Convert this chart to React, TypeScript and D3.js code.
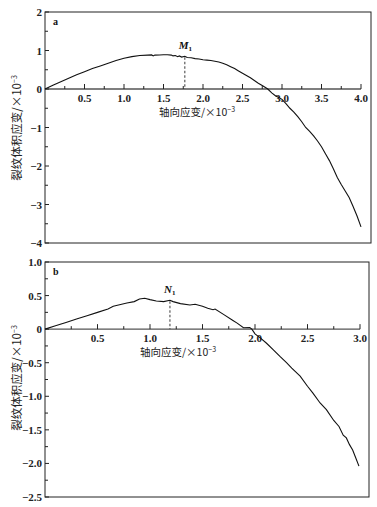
import React from "react";
import * as d3 from "d3";

const aX = [0, 0.1, 0.2, 0.3, 0.4, 0.5, 0.6, 0.7, 0.8, 0.9, 1.0, 1.1, 1.2, 1.3, 1.35, 1.37, 1.39, 1.45, 1.5, 1.55, 1.6, 1.62, 1.65, 1.68, 1.7, 1.73, 1.77, 1.8, 1.85, 1.9, 1.95, 2.0, 2.05, 2.1, 2.15, 2.2, 2.25, 2.3, 2.35, 2.4, 2.45, 2.5, 2.55, 2.6, 2.65, 2.7, 2.76, 2.82, 2.87, 2.92, 2.96, 3.0, 3.05, 3.1, 3.15, 3.2, 3.25, 3.3, 3.35, 3.4, 3.45, 3.5, 3.55, 3.6, 3.65, 3.7, 3.75, 3.8, 3.85, 3.9, 3.95, 4.0];
const aY = [0, 0.1, 0.19, 0.28, 0.37, 0.45, 0.53, 0.6, 0.67, 0.74, 0.8, 0.84, 0.87, 0.88, 0.885, 0.86, 0.88, 0.885, 0.89, 0.89, 0.88, 0.86, 0.87, 0.84, 0.86, 0.83, 0.85, 0.82, 0.81, 0.79, 0.78, 0.76, 0.75, 0.74, 0.72, 0.7, 0.67, 0.63, 0.58, 0.53, 0.47, 0.41, 0.35, 0.29, 0.22, 0.15, 0.08, 0.0, -0.1, -0.18, -0.22, -0.27, -0.38, -0.5, -0.6, -0.72, -0.85, -1.0, -1.1, -1.22, -1.35, -1.5, -1.68, -1.86, -2.07, -2.3, -2.48, -2.65, -2.82, -3.05, -3.3, -3.58];

const bX = [0, 0.1, 0.2, 0.3, 0.4, 0.5, 0.6, 0.65, 0.7, 0.78, 0.85, 0.9, 0.95, 1.0, 1.06, 1.13, 1.19, 1.22, 1.29, 1.38, 1.43, 1.5, 1.55, 1.6, 1.62, 1.7, 1.79, 1.83, 1.89, 1.95, 1.97, 2.0, 2.05, 2.11, 2.17, 2.24, 2.3, 2.35, 2.43, 2.5, 2.55, 2.62, 2.68, 2.75, 2.8, 2.84, 2.87, 2.9, 2.93, 2.96, 2.99];
const bY = [0, 0.05, 0.1, 0.15, 0.2, 0.25, 0.3, 0.34, 0.36, 0.39, 0.41, 0.45, 0.46, 0.44, 0.42, 0.41, 0.43, 0.41, 0.38, 0.36, 0.37, 0.34, 0.31, 0.29, 0.3, 0.22, 0.13, 0.09, 0.02, 0.025, 0.0, -0.07, -0.13, -0.21, -0.3, -0.41, -0.5, -0.58, -0.7, -0.85, -0.95, -1.1, -1.2, -1.36, -1.45, -1.58, -1.62, -1.72, -1.8, -1.92, -2.04];

const aXTicks = [0.5, 1.0, 1.5, 2.0, 2.5, 3.0, 3.5, 4.0];
const aYTicks = [2, 1, 0, -1, -2, -3, -4];
const bXTicks = [0.5, 1.0, 1.5, 2.0, 2.5, 3.0];
const bYTicks = [1.0, 0.5, 0, -0.5, -1.0, -1.5, -2.0, -2.5];

const xTitle = "轴向应变/×10";
const yTitle = "裂纹体积应变/×10";

const numFont = "'Liberation Serif', 'DejaVu Serif', serif";
const cjkFont = "'Noto Sans CJK SC', sans-serif";

function fmt(v: number, dec: number) {
  const s = Math.abs(v).toFixed(dec);
  return v < 0 ? "−" + s : s;
}

type PanelProps = {
  xs: number[]; ys: number[];
  xMax: number; yMin: number; yMax: number;
  left: number; xEnd: number; right: number; top: number; bottom: number;
  xTicks: number[]; yTicks: number[]; yDec: number; yMinorStep: number;
  letter: string; markName: string; markX: number; markY: number;
  xTitleX: number; yTitleY: number;
};

function Panel(p: PanelProps) {
  const x = d3.scaleLinear().domain([0, p.xMax]).range([p.left, p.xEnd]);
  const y = d3.scaleLinear().domain([p.yMin, p.yMax]).range([p.bottom, p.top]);
  const line = d3.line<number>().x((_, i) => x(p.xs[i])).y((d) => y(d));
  const y0 = y(0);
  const xMinor = d3.range(0.25, p.xMax + 0.001, 0.25);
  const yMinor = d3.range(p.yMin, p.yMax + 0.001, p.yMinorStep);
  return (
    <g>
      <rect x={p.left} y={p.top} width={p.right - p.left} height={p.bottom - p.top} fill="none" stroke="#222" strokeWidth={1} />
      <line x1={p.left} x2={p.xEnd} y1={y0} y2={y0} stroke="#555" strokeWidth={1.4} />
      {xMinor.map((t, i) => (
        <line key={"xm" + i} x1={x(t)} x2={x(t)} y1={y0} y2={y0 - (Math.abs(t * 2 - Math.round(t * 2)) < 1e-6 ? 5 : 3)} stroke="#222" strokeWidth={1} />
      ))}
      {yMinor.map((t, i) => (
        <line key={"ym" + i} x1={p.left} x2={p.left + (p.yTicks.some((v) => Math.abs(v - t) < 1e-6) ? 4 : 3)} y1={y(t)} y2={y(t)} stroke="#222" strokeWidth={1} />
      ))}
      {p.xTicks.map((t) => (
        <text key={"xt" + t} x={x(t)} y={y0 + 13} textAnchor="middle" fontFamily={numFont} fontWeight="bold" fontSize={11} fill="#222">{t.toFixed(1)}</text>
      ))}
      {p.yTicks.map((t) => (
        <text key={"yt" + t} x={p.left - 3} y={y(t) + 4} textAnchor="end" fontFamily={numFont} fontWeight="bold" fontSize={11} fill="#222">{t === 0 ? "0" : fmt(t, p.yDec)}</text>
      ))}
      <path d={line(p.ys) || ""} fill="none" stroke="#111" strokeWidth={1.1} />
      <line x1={x(p.markX)} x2={x(p.markX)} y1={y(p.markY) + 1} y2={y0} stroke="#222" strokeWidth={0.9} strokeDasharray="2.5,2" />
      <text x={x(p.markX) - 6} y={y(p.markY) - 7} fontFamily={numFont} fontWeight="bold" fontStyle="italic" fontSize={11} fill="#111">
        {p.markName}<tspan fontSize={7} dy={2} fontStyle="normal">1</tspan>
      </text>
      <text x={p.left + 8} y={p.top + 13} fontFamily={numFont} fontWeight="bold" fontSize={10} fill="#111">{p.letter}</text>
      <text x={p.xTitleX} y={y0 + 27} textAnchor="middle" fontFamily={cjkFont} fontSize={10.5} fill="#222">
        {xTitle}<tspan fontSize={7} dy={-4}>−3</tspan>
      </text>
      <text transform={`translate(21,${p.yTitleY}) rotate(-90)`} textAnchor="middle" fontFamily={cjkFont} fontSize={11.5} fill="#222">
        {yTitle}<tspan fontSize={7} dy={-4}>−3</tspan>
      </text>
    </g>
  );
}

export default function App() {
  return (
    <svg width={377} height={507} style={{ position: "absolute", left: 0, top: 0, background: "#fff" }}>
      <rect width={377} height={507} fill="#fff" />
      <Panel xs={aX} ys={aY} xMax={4} yMin={-4} yMax={2} left={45} xEnd={361} right={371} top={12} bottom={243}
        xTicks={aXTicks} yTicks={aYTicks} yDec={0} yMinorStep={0.5} letter="a" markName="M" markX={1.77} markY={0.85}
        xTitleX={197} yTitleY={128} />
      <Panel xs={bX} ys={bY} xMax={3} yMin={-2.5} yMax={1} left={45} xEnd={360} right={369} top={262} bottom={497}
        xTicks={bXTicks} yTicks={bYTicks} yDec={1} yMinorStep={0.25} letter="b" markName="N" markX={1.19} markY={0.43}
        xTitleX={178} yTitleY={378} />
    </svg>
  );
}
